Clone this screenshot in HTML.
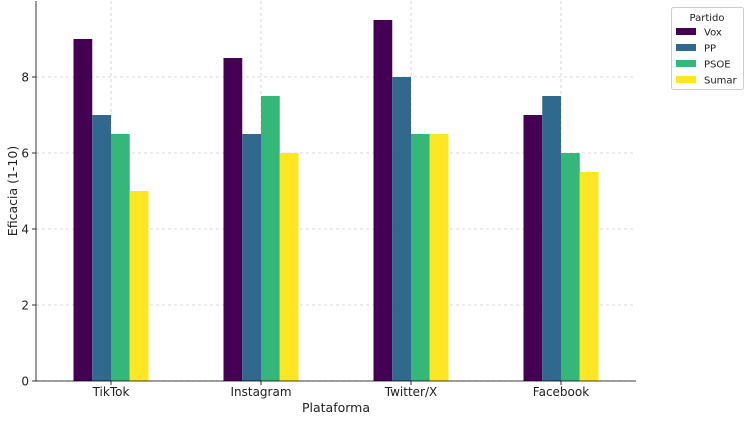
<!DOCTYPE html>
<html><head><meta charset="utf-8"><style>
body{margin:0;background:#fff;}
svg{display:block;font-family:"DejaVu Sans","Liberation Sans",sans-serif;}
</style></head><body>
<svg id="chart" width="754" height="425" viewBox="0 0 754 425"></svg>
<script>
const categories = ["TikTok","Instagram","Twitter/X","Facebook"];
const seriesNames = ["Vox","PP","PSOE","Sumar"];
const vox = [9, 8.5, 9.5, 7];
const pp = [7, 6.5, 8, 7.5];
const psoe = [6.5, 7.5, 6.5, 6];
const sumar = [5, 6, 6.5, 5.5];
const yTicks = [0,2,4,6,8];
const colors = ["#440154","#31688e","#35b779","#fde725"];
const series = [vox, pp, psoe, sumar];

const svg = document.getElementById('chart');
const NS = "http://www.w3.org/2000/svg";
const L=36,R=636,T=1,B=381,YMAX=10;
const x = v => L + (v + 0.5) * (R - L) / categories.length;
const y = v => B - v * (B - T) / YMAX;
function el(tag, attrs, parent){const e=document.createElementNS(NS,tag);for(const k in attrs)e.setAttribute(k,attrs[k]);(parent||svg).appendChild(e);return e;}

// grid
yTicks.forEach(t=>{
  const g=el('line',{x1:L,x2:R,y1:y(t),y2:y(t),stroke:'#ccc','stroke-dasharray':'3,3','stroke-width':0.8});
  
  
});
categories.forEach((c,i)=>{
  const g=el('line',{x1:x(i),x2:x(i),y1:T,y2:B,stroke:'#ccc','stroke-dasharray':'3,3','stroke-width':0.8});
  
  
});
// bars
const bw = 0.125;
series.forEach((s,si)=>{
  s.forEach((v,i)=>{
    const x0 = x(i + (si-2)*bw), x1 = x(i + (si-1)*bw);
    const r=el('rect',{x:x0,y:y(v),width:x1-x0,height:B-y(v),fill:colors[si]});
    
    
  });
});
// axes
let a=el('line',{x1:L,x2:L,y1:T,y2:B,stroke:'#000','stroke-width':0.8});


a=el('line',{x1:L,x2:R,y1:B,y2:B,stroke:'#000','stroke-width':0.8});


yTicks.forEach(t=>{
  el('line',{x1:L-4,x2:L,y1:y(t),y2:y(t),stroke:'#000','stroke-width':0.8});
  const tx=el('text',{x:L-7,y:y(t)+4.5,'text-anchor':'end','font-size':12,fill:'#222'});
  tx.textContent=t;
  
  
});
categories.forEach((c,i)=>{
  el('line',{x1:x(i),x2:x(i),y1:B,y2:B+4,stroke:'#000','stroke-width':0.8});
  const tx=el('text',{x:x(i),y:B+15,'text-anchor':'middle','font-size':12,fill:'#222'});
  tx.textContent=c;
  
  
});
let t=el('text',{x:(L+R)/2,y:412,'text-anchor':'middle','font-size':12.5,fill:'#222'});
t.textContent='Plataforma';


t=el('text',{x:0,y:0,'text-anchor':'middle','font-size':12.5,fill:'#222',transform:'translate(17,191) rotate(-90)'});
t.textContent='Eficacia (1-10)';


// legend
const lg=el('g',{});


el('rect',{x:671.5,y:7.5,width:72,height:82,fill:'#fff',stroke:'#ccc',rx:2},lg);
t=el('text',{x:707,y:21,'text-anchor':'middle','font-size':10,fill:'#222'},lg);
t.textContent='Partido';


seriesNames.forEach((n,i)=>{
  const g=el('g',{},lg);
  
  
  el('rect',{x:676,y:28+i*16,width:20,height:7,fill:colors[i]},g);
  const tt=el('text',{x:704,y:35.5+i*16,'font-size':10,fill:'#222'},g);
  tt.textContent=n;
});
</script>
</body></html>
